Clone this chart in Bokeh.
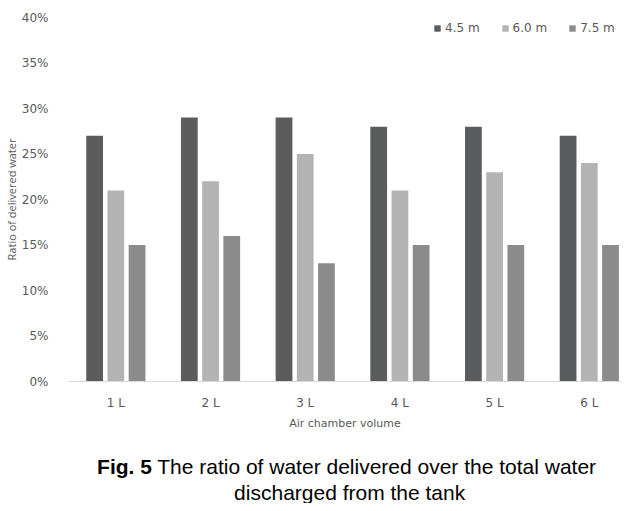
from bokeh.plotting import figure
from bokeh.layouts import column
from bokeh.models import (ColumnDataSource, Range1d, FixedTicker, PrintfTickFormatter,
                          Legend, LegendItem, Label)
from bokeh.transform import dodge
from bokeh.embed import file_html
from bokeh.resources import INLINE

categories = ["1 L", "2 L", "3 L", "4 L", "5 L", "6 L"]
series_names = ["4.5 m", "6.0 m", "7.5 m"]
h45 = [27, 29, 29, 28, 28, 27]
h60 = [21, 22, 25, 21, 23, 24]
h75 = [15, 16, 13, 15, 15, 15]
y_ticks = [0, 5, 10, 15, 20, 25, 30, 35, 40]
caption_bold = "Fig. 5"
caption_line1 = "The ratio of water delivered over the total water"
caption_line2 = "discharged from the tank"

colors = ["#5b5c5e", "#b3b3b3", "#8b8b8b"]
positions = [i + 0.5 for i in range(len(categories))]

src = ColumnDataSource(dict(x=positions, h45=h45, h60=h60, h75=h75))

p = figure(width=628, height=443, output_backend="svg", toolbar_location=None,
           x_range=Range1d(0, 5.84), y_range=Range1d(0, 40),
           min_border_left=60, min_border_right=7, min_border_top=17, min_border_bottom=62)
p.outline_line_color = None
p.xgrid.visible = False
p.ygrid.visible = False

renderers = []
offs = [-0.224, 0.0, 0.224]
for col, off, c in zip(["h45", "h60", "h75"], offs, colors):
    r = p.vbar(x=dodge("x", off), top=col, bottom=0, width=0.177, source=src,
               fill_color=c, line_color=None)
    renderers.append(r)

txt = "#595959"
font = "DejaVu Sans"

xa = p.xaxis[0]
xa.ticker = FixedTicker(ticks=positions)
xa.major_label_overrides = {pos: lab for pos, lab in zip(positions, categories)}
xa.axis_line_color = "#d9d9d9"
xa.major_tick_line_color = None
xa.minor_tick_line_color = None
xa.major_label_text_color = txt
xa.major_label_text_font = font
xa.major_label_text_font_size = "12px"
xa.major_label_standoff = 8
xa.axis_label = "Air chamber volume"
xa.axis_label_text_font = font
xa.axis_label_text_font_style = "normal"
xa.axis_label_text_font_size = "11px"
xa.axis_label_text_color = txt
xa.axis_label_standoff = 4

ya = p.yaxis[0]
ya.ticker = FixedTicker(ticks=y_ticks)
ya.formatter = PrintfTickFormatter(format="%d%%")
ya.axis_line_color = None
ya.major_tick_line_color = None
ya.minor_tick_line_color = None
ya.major_label_text_color = txt
ya.major_label_text_font = font
ya.major_label_text_font_size = "12px"
ya.major_label_standoff = 14
ya.axis_label = "Ratio of delivered water"
ya.axis_label_text_font = "Open Sans"
ya.axis_label_text_font_style = "normal"
ya.axis_label_text_font_size = "11px"
ya.axis_label_text_color = txt
ya.axis_label_standoff = 0

legend = Legend(items=[LegendItem(label=n, renderers=[r]) for n, r in zip(series_names, renderers)],
                orientation="horizontal", location=(365, 346),
                glyph_width=8, glyph_height=8, label_standoff=4, spacing=21,
                label_text_font=font, label_text_font_size="12px", label_text_color=txt,
                border_line_color=None, background_fill_alpha=0, margin=0, padding=4,
                label_height=12)
p.add_layout(legend, "center")

# caption panel (its frame is aligned with the chart's frame by the column layout,
# so x is expressed in page pixels between the frame's edges)
cap = figure(width=628, height=60, output_backend="svg", toolbar_location=None,
             x_range=Range1d(68, 629), y_range=Range1d(0, 60),
             x_axis_location=None, y_axis_location=None,
             min_border_left=60, min_border_right=7, min_border_top=0, min_border_bottom=0)
cap.grid.visible = False
cap.outline_line_color = None

cap_font = "Liberation Sans"
cap_size = "21px"
cap.add_layout(Label(x=97, y=37, text=caption_bold,
                     text_font=cap_font, text_font_style="bold", text_font_size=cap_size,
                     text_color="black", text_baseline="middle", text_align="left"))
cap.add_layout(Label(x=158, y=37, text=caption_line1,
                     text_font=cap_font, text_font_size=cap_size,
                     text_color="black", text_baseline="middle", text_align="left"))
cap.add_layout(Label(x=236, y=11, text=caption_line2,
                     text_font=cap_font, text_font_size=cap_size,
                     text_color="black", text_baseline="middle", text_align="left"))

layout = column(p, cap, spacing=0)
open("out.html", "w").write(file_html(layout, INLINE))
